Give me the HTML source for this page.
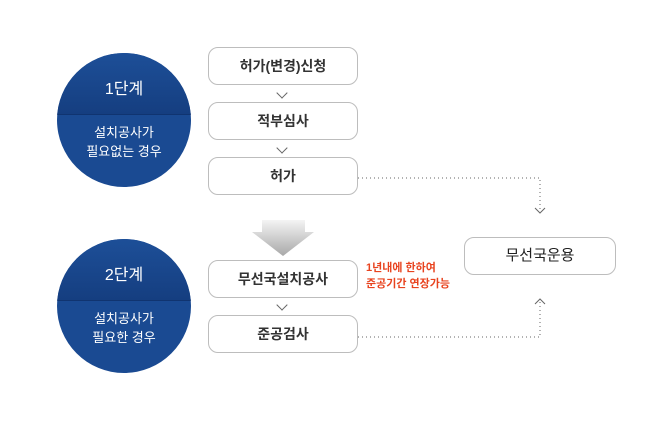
<!DOCTYPE html><html><head><meta charset="utf-8"><style>
body{margin:0;width:670px;height:428px;background:#fff;position:relative;font-family:"Liberation Sans","Noto Sans CJK KR",sans-serif;overflow:hidden}
.c{position:absolute;width:134px;height:134px;border-radius:50%;overflow:hidden;background:#1a4a92;color:#fff;text-align:center}
.c .t{background:linear-gradient(#1d4f98,#153e80);font-size:16px;line-height:20px;padding-top:27px;box-sizing:border-box;height:62px;border-bottom:1px solid #103470}
.c .s{font-size:13px;line-height:19px;padding-top:8px}
.b{position:absolute;left:208px;width:150px;height:38px;border:1px solid #bdbdbd;border-radius:10px;box-sizing:border-box;text-align:center;line-height:36px;font-size:14px;font-weight:bold;color:#333;background:#fff}
.v{position:absolute;left:278px;width:7px;height:7px;border-right:1px solid #666;border-bottom:1px solid #666;transform:rotate(45deg)}
</style></head><body>
<div class="c" style="left:57px;top:53px"><div class="t">1단계</div><div class="s">설치공사가<br>필요없는 경우</div></div>
<div class="c" style="left:57px;top:239px"><div class="t">2단계</div><div class="s">설치공사가<br>필요한 경우</div></div>
<div class="b" style="top:47px">허가(변경)신청</div>
<div class="v" style="top:89px"></div>
<div class="b" style="top:102px">적부심사</div>
<div class="v" style="top:144px"></div>
<div class="b" style="top:157px">허가</div>
<div class="b" style="top:260px">무선국설치공사</div>
<div class="v" style="top:301px"></div>
<div class="b" style="top:315px">준공검사</div>
<div class="b" style="left:464px;top:237px;width:152px;font-weight:normal;color:#222;font-size:15px">무선국운용</div>
<div style="position:absolute;left:366px;top:260px;font-size:11px;font-weight:bold;color:#e8431f;line-height:16px">1년내에 한하여<br>준공기간 연장가능</div>
<svg style="position:absolute;left:0;top:0" width="670" height="428">
<defs><linearGradient id="g" x1="0" y1="0" x2="0" y2="1"><stop offset="0" stop-color="#f4f4f4"/><stop offset="1" stop-color="#a8a8a8"/></linearGradient></defs>
<polygon points="262,220 305,220 305,232 314,232 283,256 252,232 262,232" fill="url(#g)"/>
<polyline points="358,178 540,178 540,212" fill="none" stroke="#666" stroke-dasharray="1,3"/>
<polyline points="535,208 540,213 545,208" fill="none" stroke="#666"/>
<polyline points="358,337 540,337 540,302" fill="none" stroke="#666" stroke-dasharray="1,3"/>
<polyline points="535,304 540,299 545,304" fill="none" stroke="#666"/>
</svg>
</body></html>
